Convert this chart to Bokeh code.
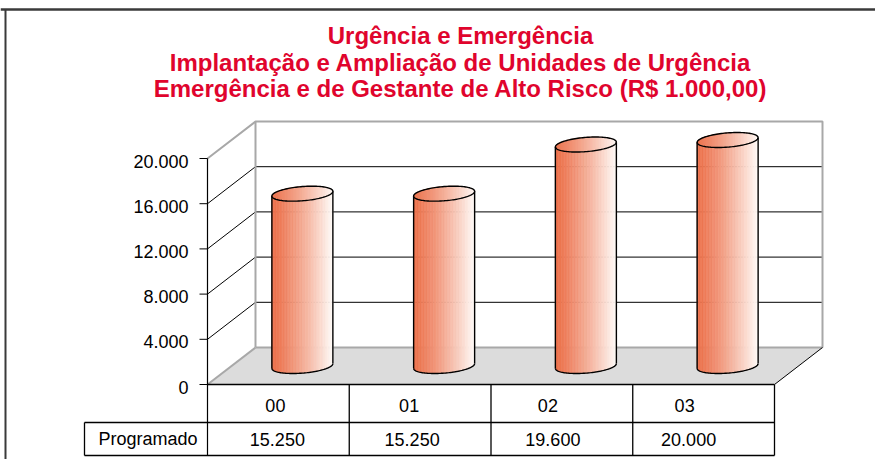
import math
from bokeh.plotting import figure
from bokeh.models import Range1d
from bokeh.core.properties import value
from bokeh.embed import file_html
from bokeh.resources import INLINE

# ---------------- data ----------------
title_lines = [
    "Urgência e Emergência",
    "Implantação e Ampliação de Unidades de Urgência",
    "Emergência e de Gestante de Alto Risco (R$ 1.000,00)",
]
categories = ["00", "01", "02", "03"]
series_name = "Programado"
programado = [15250, 15250, 19600, 20000]
y_ticks = [0, 4000, 8000, 12000, 16000, 20000]
y_tick_labels = ["0", "4.000", "8.000", "12.000", "16.000", "20.000"]
value_labels = [f"{v:,}".replace(",", ".") for v in programado]

# ---------------- layout (pixels, from the top-left of the figure) ----------------
W, H = 875, 459
X0 = 207.0          # front y-axis x
COL_W = 141.75      # width of one category on the front plane
Y0 = 384.0          # y of value 0 on the front plane
VMAX = 20000
PXV = 226.0 / VMAX  # pixels per unit value
DX, DY = 48.0, 37.0 # depth offset (front -> back)
ROW1, ROW2 = 422.0, 455.0
TABLE_LEFT = 84.0
FONT = value("Liberation Sans")
cat_shift = [-3, -11, -14, -19]
val_shift = [-1, -8, -9, -15]


def Y(py):
    return H - py


def P(pos, v, d):
    """project (category position, value, depth fraction) -> data coords"""
    x = X0 + pos * COL_W + d * DX
    y = Y0 - v * PXV - d * DY
    return x, Y(y)


p = figure(width=W, height=H, output_backend="svg", toolbar_location=None,
           x_range=Range1d(0, W), y_range=Range1d(0, H),
           x_axis_type=None, y_axis_type=None, min_border=0)
p.outline_line_color = None
p.xgrid.visible = False
p.ygrid.visible = False
p.background_fill_color = "white"

# outer frame lines
p.line([0, W], [Y(9), Y(9)], line_color="#3a3a3a", line_width=2.5)
p.line([5, 5], [Y(9), Y(H)], line_color="#3a3a3a", line_width=2)

n = len(categories)
GRAY = "#a8a8a8"

# floor
fl = [P(0, 0, 0), P(n, 0, 0), P(n, 0, 1), P(0, 0, 1)]
p.patch([a for a, b in fl], [b for a, b in fl], fill_color="#dcdcdc", line_color=None)
# back wall
bw = [P(0, 0, 1), P(n, 0, 1), P(n, VMAX, 1), P(0, VMAX, 1)]
p.patch([a for a, b in bw], [b for a, b in bw], fill_color="white", line_color=None)

# gridlines on back wall and side wall
for t in y_ticks[1:-1]:
    a0 = P(0, t, 0); a1 = P(0, t, 1); a2 = P(n, t, 1)
    p.line([a0[0], a1[0], a2[0]], [a0[1], a1[1], a2[1]], line_color="black", line_width=1)

# wall edges (gray)
e = [P(0, VMAX, 0), P(0, VMAX, 1), P(n, VMAX, 1), P(n, 0, 1), P(0, 0, 1), P(0, VMAX, 1)]
p.line([e[0][0], e[1][0], e[2][0], e[3][0]], [e[0][1], e[1][1], e[2][1], e[3][1]],
       line_color=GRAY, line_width=2)
p.line([e[3][0], e[4][0]], [e[3][1], e[4][1]], line_color=GRAY, line_width=2)
p.line([e[4][0], e[5][0]], [e[4][1], e[5][1]], line_color=GRAY, line_width=2)
f0 = P(0, 0, 0)
p.line([f0[0], e[4][0]], [f0[1], e[4][1]], line_color=GRAY, line_width=2)
# floor right edge
fr0 = P(n, 0, 0); fr1 = P(n, 0, 1)
p.line([fr0[0], fr1[0]], [fr0[1], fr1[1]], line_color="black", line_width=1)

# ---------------- cylinders ----------------
R = 30.5
A = 9.7
B = 7.5
r_in = math.sqrt(R * R - A * A)
PHI = math.atan2(A, r_in)
N = 40
c_left = (236, 112, 74)
c_right = (255, 251, 248)


def ell_y(dx):
    q = max(-1.0, min(1.0, dx / R))
    th = math.acos(q)
    y1 = B * math.sin(PHI + th)
    y2 = B * math.sin(PHI - th)
    return max(y1, y2), min(y1, y2)


def grad(f):
    g = f ** 1.25
    return "#%02x%02x%02x" % tuple(int(round(c_left[k] + (c_right[k] - c_left[k]) * g)) for k in range(3))


xs_all, ys_all, cols = [], [], []
outline_x, outline_y = [], []
for i, v in enumerate(programado):
    cx, yt = P(i + 0.5, v, 0.5)
    _, yb = P(i + 0.5, 0, 0.5)
    for j in range(N):
        xa = -R + 2 * R * j / N
        xb = -R + 2 * R * (j + 1) / N
        ua, la = ell_y(xa)
        ub, lb = ell_y(xb)
        xs_all.append([cx + xa, cx + xb, cx + xb, cx + xa])
        ys_all.append([yt + ua, yt + ub, yb + lb, yb + la])
        cols.append(grad((j + 0.5) / N))
    for j in range(N):
        xa = -R + 2 * R * j / N
        xb = -R + 2 * R * (j + 1) / N
        ua, la = ell_y(xa)
        ub, lb = ell_y(xb)
        xs_all.append([cx + xa, cx + xb, cx + xb, cx + xa])
        ys_all.append([yt + ua, yt + ub, yt + lb, yt + la])
        cols.append(grad(min(1.0, (j + 0.5) / N * 0.9 + 0.08)))
    ts = [PHI + 2 * math.pi * k / 120 for k in range(121)]
    outline_x.append([cx + r_in * math.cos(t) + A * math.sin(t) for t in ts])
    outline_y.append([yt + B * math.sin(t) for t in ts])
    ts2 = [PHI + math.pi + math.pi * k / 60 for k in range(61)]
    outline_x.append([cx + r_in * math.cos(t) + A * math.sin(t) for t in ts2])
    outline_y.append([yb + B * math.sin(t) for t in ts2])
    s = B * math.sin(PHI)
    outline_x.append([cx + R, cx + R]); outline_y.append([yt + s, yb + s])
    outline_x.append([cx - R, cx - R]); outline_y.append([yt - s, yb - s])

p.patches(xs_all, ys_all, fill_color=cols, line_color=cols, line_width=0.6)
p.multi_line(outline_x, outline_y, line_color="black", line_width=1.4)

# ---------------- front axis ----------------
ax_top = P(0, VMAX, 0)
p.line([X0, X0], [ax_top[1], Y(ROW2)], line_color="black", line_width=1.2)
tick_y = [P(0, t, 0)[1] for t in y_ticks]
p.segment(x0=[X0 - 8] * len(y_ticks), y0=tick_y, x1=[X0] * len(y_ticks), y1=tick_y,
          line_color="black", line_width=1)
p.text(x=[X0 - 19] * len(y_ticks), y=[ty - 2.5 for ty in tick_y], text=y_tick_labels,
       text_align="right", text_baseline="middle", text_font=FONT,
       text_font_size="18px", text_color="black")

# ---------------- data table ----------------
right_x = X0 + n * COL_W
p.line([X0, right_x], [Y(Y0), Y(Y0)], line_color="black", line_width=1.3)
p.segment(x0=[TABLE_LEFT, TABLE_LEFT], y0=[Y(ROW1), Y(ROW2)],
          x1=[right_x, right_x], y1=[Y(ROW1), Y(ROW2)], line_color="black", line_width=1.3)
p.line([TABLE_LEFT, TABLE_LEFT], [Y(ROW1), Y(ROW2)], line_color="black", line_width=1.3)
for k in range(1, n + 1):
    xk = X0 + k * COL_W
    p.line([xk, xk], [Y(Y0), Y(ROW2)], line_color="black", line_width=1.3)

col_c = [X0 + (k + 0.5) * COL_W for k in range(n)]
p.text(x=[c + s for c, s in zip(col_c, cat_shift)], y=[Y(404.5)] * n, text=categories,
       text_align="center", text_baseline="middle", text_font=FONT,
       text_font_size="18px", text_color="black")
p.text(x=[c + s for c, s in zip(col_c, val_shift)], y=[Y(439)] * n, text=value_labels,
       text_align="center", text_baseline="middle", text_font=FONT,
       text_font_size="18px", text_color="black")
p.text(x=[(TABLE_LEFT + X0) / 2 + 2], y=[Y(438)], text=[series_name],
       text_align="center", text_baseline="middle", text_font=FONT,
       text_font_size="18px", text_color="black")

# ---------------- title ----------------
p.text(x=[460] * 3, y=[Y(34.6), Y(61.6), Y(88.1)], text=title_lines,
       text_align="center", text_baseline="middle", text_font=FONT,
       text_font_style="bold", text_font_size="24px", text_color="#e0042d")

open("out.html", "w").write(file_html(p, INLINE))
